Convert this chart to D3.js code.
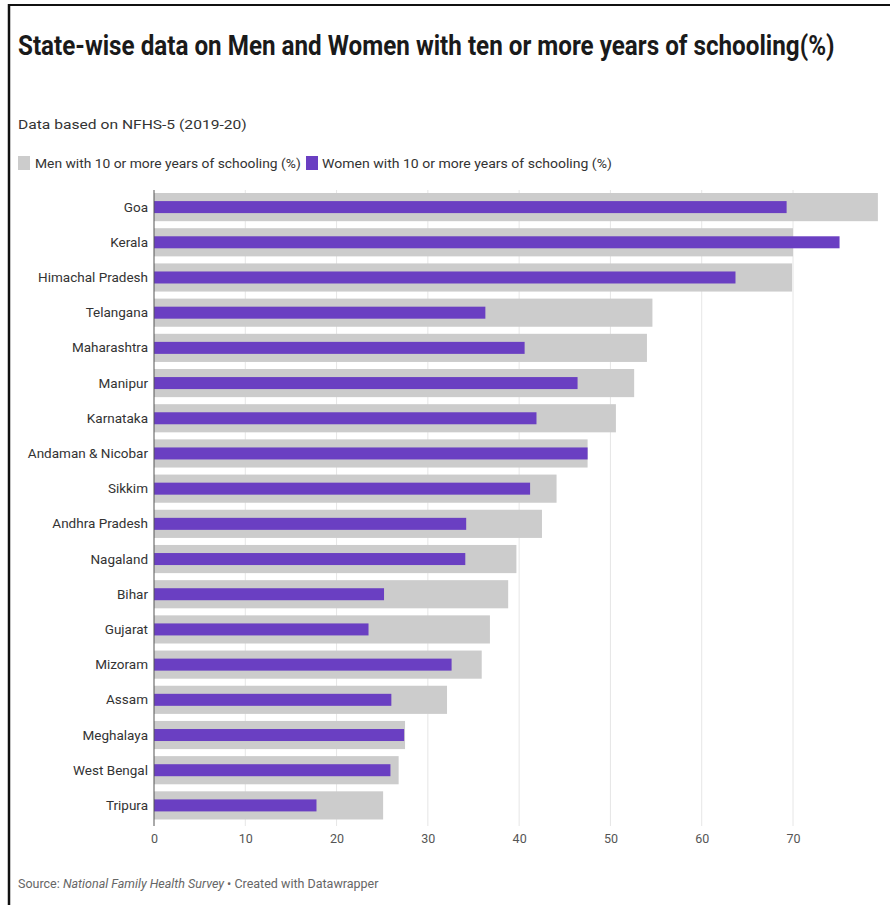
<!DOCTYPE html>
<html><head><meta charset="utf-8">
<script src="https://cdn.jsdelivr.net/npm/d3@7"></script>
<style>
html,body{margin:0;padding:0;background:#fff;}
svg text{font-family:Roboto,"Liberation Sans",sans-serif;}
</style></head>
<body><svg id="c" width="890" height="907"></svg>
<script>
const states = ["Goa","Kerala","Himachal Pradesh","Telangana","Maharashtra","Manipur","Karnataka","Andaman & Nicobar","Sikkim","Andhra Pradesh","Nagaland","Bihar","Gujarat","Mizoram","Assam","Meghalaya","West Bengal","Tripura"];
const menValues = [79.3,70.0,69.9,54.6,54.0,52.6,50.6,47.5,44.1,42.5,39.7,38.8,36.8,35.9,32.1,27.5,26.8,25.1];
const womenValues = [69.3,75.1,63.7,36.3,40.6,46.4,41.9,47.5,41.2,34.2,34.1,25.2,23.5,32.6,26.0,27.4,25.9,17.8];
const xTicks = [0,10,20,30,40,50,60,70];
const seriesNames = ["Men with 10 or more years of schooling (%)","Women with 10 or more years of schooling (%)"];
const titleText = "State-wise data on Men and Women with ten or more years of schooling(%)";
const subtitleText = "Data based on NFHS-5 (2019-20)";

const svg = d3.select("#c");
const menColor = "#cccccc", womenColor = "#6a3fc2";

// frame
svg.append("line").attr("x1",9).attr("x2",890).attr("y1",5).attr("y2",5).attr("stroke","#111").attr("stroke-width",2);
svg.append("line").attr("x1",9).attr("x2",9).attr("y1",4).attr("y2",905).attr("stroke","#111").attr("stroke-width",2.5);

// condensed text helper: scale horizontally to a target width
function fitText(sel, target){
  const w = sel.node().getComputedTextLength();
  const x0 = +sel.attr("x"), y0 = +sel.attr("y");
  sel.attr("x",0).attr("y",0).attr("transform",`translate(${x0},${y0}) scale(${target/w},1)`);
}

const title = svg.append("text").attr("x",18).attr("y",55).text(titleText)
  .attr("font-size",27).attr("font-weight",700).attr("fill","#1a1a1a");
fitText(title, 817);
const sub = svg.append("text").attr("x",18).attr("y",129).text(subtitleText)
  .attr("font-size",13).attr("fill","#333");
fitText(sub, 229);

// legend
const lg = svg.append("g");
lg.append("rect").attr("x",18).attr("y",156).attr("width",12).attr("height",14).attr("fill",menColor);
const l1 = lg.append("text").attr("x",35).attr("y",168).text(seriesNames[0]).attr("font-size",12).attr("fill","#333");
fitText(l1, 266);
lg.append("rect").attr("x",306).attr("y",156).attr("width",12).attr("height",14).attr("fill",womenColor);
const l2 = lg.append("text").attr("x",322).attr("y",168).text(seriesNames[1]).attr("font-size",12).attr("fill","#333");
fitText(l2, 290);

const x = d3.scaleLinear().domain([0,70]).range([154,793]);
const y = d3.scaleBand().domain(states).range([189.5,823]).paddingInner(0.2).paddingOuter(0.1);

// gridlines
svg.append("g").selectAll("line").data(xTicks.slice(1)).join("line")
  .attr("x1",d=>x(d)).attr("x2",d=>x(d)).attr("y1",190).attr("y2",826)
  .attr("stroke","#e6e6e6").attr("stroke-width",1);

svg.append("g").selectAll("rect").data(states).join("rect")
  .attr("x",x(0)).attr("y",d=>y(d))
  .attr("width",(d,i)=>Math.min(x(menValues[i]),880)-x(0))
  .attr("height",y.bandwidth()).attr("fill",menColor);

const wh = 12;
svg.append("g").selectAll("rect").data(states).join("rect")
  .attr("x",x(0)).attr("y",d=>y(d)+y.bandwidth()/2-wh/2)
  .attr("width",(d,i)=>x(womenValues[i])-x(0))
  .attr("height",wh).attr("fill",womenColor);

// baseline
svg.append("line").attr("x1",x(0)).attr("x2",x(0)).attr("y1",190).attr("y2",826).attr("stroke","#555").attr("stroke-width",1);

// labels
svg.append("g").selectAll("text").data(states).join("text")
  .attr("x",148).attr("y",d=>y(d)+y.bandwidth()/2+4.5)
  .attr("text-anchor","end").attr("font-size",13.5).attr("fill","#333").text(d=>d);

// x axis
const ax = svg.append("g").attr("transform","translate(0,826)")
  .call(d3.axisBottom(x).tickValues(xTicks).tickSize(0).tickPadding(8));
ax.select(".domain").remove();
ax.selectAll("text").attr("font-size",12.5).attr("fill","#555").attr("font-family","Roboto,sans-serif");

const src = svg.append("text").attr("x",18).attr("y",888).attr("font-size",12.5).attr("fill","#666");
src.append("tspan").text("Source: ");
src.append("tspan").attr("font-style","italic").text("National Family Health Survey");
src.append("tspan").text(" • Created with Datawrapper");
</script></body></html>
